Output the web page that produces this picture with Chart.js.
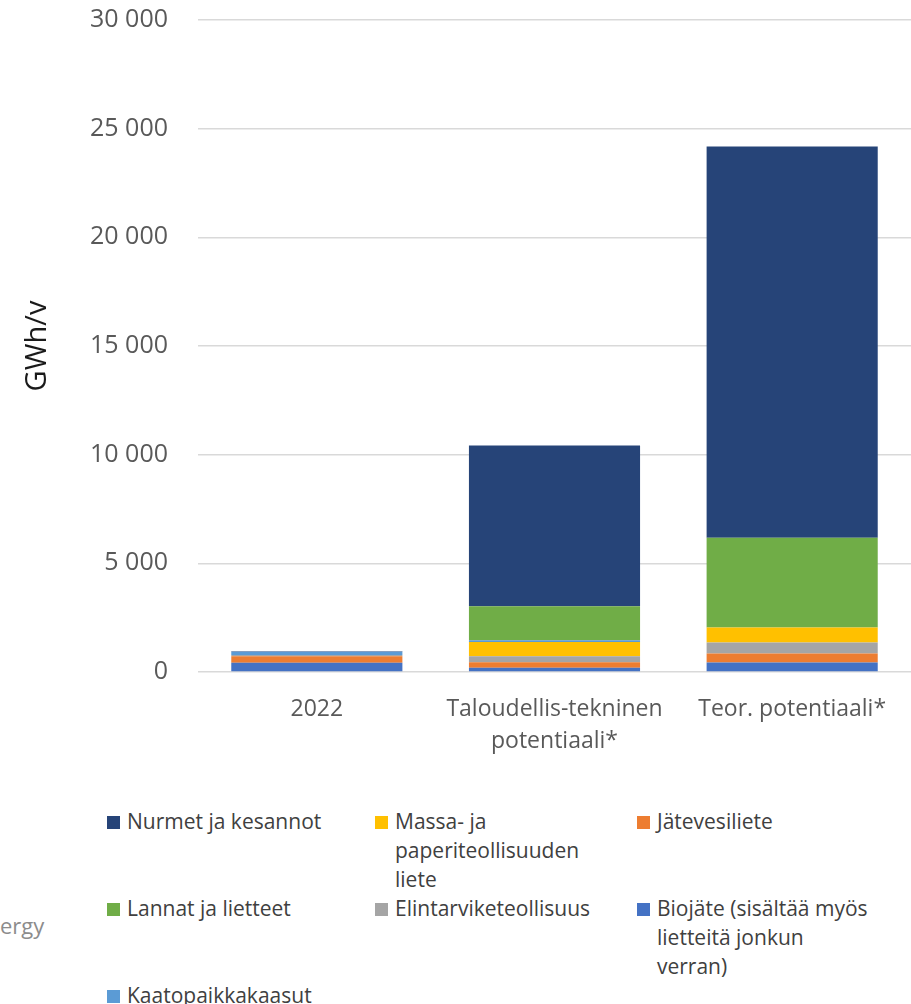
<!DOCTYPE html>
<html>
<head>
<meta charset="utf-8">
<script src="https://cdn.jsdelivr.net/npm/chart.js@4"></script>
<style>
  html, body { margin: 0; padding: 0; background: #fff; }
  #wrap { position: relative; width: 911px; height: 1004px; overflow: hidden; }
  #box { position: absolute; left: 0; top: -25px; width: 911px; height: 805px; }
  #legend {
    position: absolute; left: 107px; top: 807px;
    display: grid; grid-template-columns: 268px 262px 274px;
    font-family: "Open Sans", sans-serif;
    font-size: 21px; line-height: 29px; color: #404040;
  }
  .item { display: flex; align-items: flex-start; }
  .sw { width: 13px; height: 13px; margin: 9px 7px 0 0; flex: none; }
  .txt { white-space: pre-line; }
  #src { position: absolute; left: 0; top: 910px; font-family: "Open Sans", sans-serif;
         font-size: 22px; color: #8c8c8c; }
</style>
</head>
<body>
<div id="wrap">
  <div id="box"><canvas id="chart"></canvas></div>
  <div id="legend"></div>
  <div id="src">ergy</div>
</div>
<script>
var categories = ['2022', ['Taloudellis-tekninen', 'potentiaali*'], 'Teor. potentiaali*'];
var yTicks = [0, 5000, 10000, 15000, 20000, 25000, 30000];

// stacked from the bottom up, GWh/v
var biojate      = [420, 200, 440];
var jatevesiliete = [300, 250, 410];
var elintarvike  = [60, 270, 510];
var massaPaperi  = [0, 660, 690];
var kaatopaikka  = [150, 80, 0];
var lannat       = [0, 1560, 4130];
var nurmet       = [30, 7400, 18000];

var names = {
  biojate: 'Biojäte (sisältää myös\nlietteitä jonkun\nverran)',
  jatevesiliete: 'Jätevesiliete',
  elintarvike: 'Elintarviketeollisuus',
  massaPaperi: 'Massa- ja\npaperiteollisuuden\nliete',
  kaatopaikka: 'Kaatopaikkakaasut',
  lannat: 'Lannat ja lietteet',
  nurmet: 'Nurmet ja kesannot'
};
var legendOrder = ['nurmet', 'massaPaperi', 'jatevesiliete', 'lannat', 'elintarvike', 'biojate', 'kaatopaikka'];

var datasets = [
  { key: 'biojate', data: biojate, backgroundColor: '#4472C4' },
  { key: 'jatevesiliete', data: jatevesiliete, backgroundColor: '#ED7D31' },
  { key: 'elintarvike', data: elintarvike, backgroundColor: '#A5A5A5' },
  { key: 'massaPaperi', data: massaPaperi, backgroundColor: '#FFC000' },
  { key: 'kaatopaikka', data: kaatopaikka, backgroundColor: '#5B9BD5' },
  { key: 'lannat', data: lannat, backgroundColor: '#70AD47' },
  { key: 'nurmet', data: nurmet, backgroundColor: '#264478' }
];
datasets.forEach(function(d) {
  d.label = names[d.key].replace(/\n/g, ' ');
  d.borderWidth = 0;
});

var fmt = function(v) {
  return String(v).replace(/\B(?=(\d{3})+(?!\d))/g, ' ');
};

var chart = new Chart(document.getElementById('chart'), {
  type: 'bar',
  data: { labels: categories, datasets: datasets },
  options: {
    responsive: true,
    maintainAspectRatio: false,
    animation: false,
    layout: { padding: { top: 0, right: 0, bottom: 0, left: 0 } },
    datasets: { bar: { categoryPercentage: 1, barPercentage: 0.72 } },
    plugins: { legend: { display: false }, tooltip: { enabled: false } },
    scales: {
      x: {
        stacked: true,
        grid: { display: false, drawTicks: false },
        border: { display: false },
        ticks: {
          color: '#595959', padding: 21, maxRotation: 0,
          font: { family: 'Open Sans', size: 23, lineHeight: 1.39 }
        },
        afterFit: function(s) { s.height = 108; }
      },
      y: {
        stacked: true,
        min: 0, max: 30000,
        afterBuildTicks: function(s) { s.ticks = yTicks.map(function(v) { return { value: v }; }); },
        grid: { color: '#d9d9d9', lineWidth: 1.5, drawTicks: false },
        border: { display: false },
        ticks: {
          color: '#595959', padding: 30,
          font: { family: 'Open Sans', size: 25 },
          callback: function(v) { return fmt(v); }
        },
        title: {
          display: true, text: 'GWh/v', color: '#1a1a1a',
          font: { family: 'Open Sans', size: 29 },
          padding: { top: 20, bottom: 0 }
        },
        afterFit: function(s) { s.width = 198; }
      }
    }
  }
});

// legend laid out as in the reference (three columns, wrapped labels)
var leg = document.getElementById('legend');
legendOrder.forEach(function(k) {
  var ds = datasets.filter(function(d) { return d.key === k; })[0];
  var it = document.createElement('div');
  it.className = 'item';
  it.innerHTML = '<span class="sw" style="background:' + ds.backgroundColor + '"></span>' +
                 '<span class="txt"></span>';
  it.querySelector('.txt').textContent = names[k];
  leg.appendChild(it);
});
</script>
</body>
</html>
